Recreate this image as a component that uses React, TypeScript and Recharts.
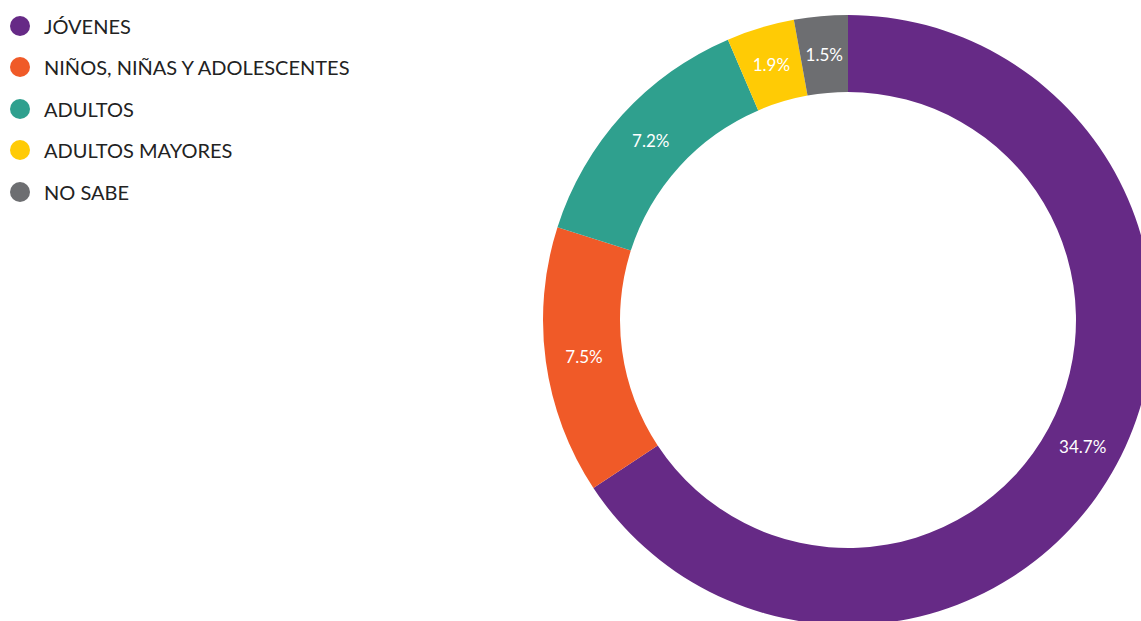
import React from 'react';
import { PieChart, Pie, Cell } from 'recharts';

const categories = ['JÓVENES', 'NIÑOS, NIÑAS Y ADOLESCENTES', 'ADULTOS', 'ADULTOS MAYORES', 'NO SABE'];
const values = [34.7, 7.5, 7.2, 1.9, 1.5];
const colors = ['#662A86', '#F05A28', '#2FA08E', '#FFCB05', '#6D6E71'];

const data = categories.map((name, i) => ({ name, value: values[i] }));

const RADIAN = Math.PI / 180;
const FONT = 'Lato, "Open Sans", sans-serif';

function renderLabel({ cx, cy, midAngle, innerRadius, outerRadius, value }: any) {
  const r = (innerRadius + outerRadius) / 2;
  const x = cx + r * Math.cos(-midAngle * RADIAN);
  const y = cy + r * Math.sin(-midAngle * RADIAN);
  return (
    <text x={x} y={y} fill="#fff" fontSize={17} fontFamily={FONT} textAnchor="middle" dominantBaseline="central">
      {`${value}%`}
    </text>
  );
}

// legend sits in the top-left corner, outside the chart's plot offset
function LegendList() {
  return (
    <div style={{ position: 'absolute', top: 5, left: 0, fontFamily: FONT, zIndex: 1 }}>
      {data.map((d, i) => (
        <div key={d.name} style={{ display: 'flex', alignItems: 'center', height: 41.5 }}>
          <span style={{ width: 20, height: 20, borderRadius: 10, background: colors[i], marginLeft: 10, marginRight: 14 }} />
          <span style={{ fontSize: 20, color: '#222' }}>{d.name}</span>
        </div>
      ))}
    </div>
  );
}

export default function App() {
  return (
    <div style={{ position: 'fixed', top: 0, left: 0, width: 1141, height: 621, overflow: 'hidden', background: '#fff' }}>
      <LegendList />
      <PieChart width={1141} height={621} margin={{ top: 0, right: 0, bottom: 0, left: 0 }}>
        <Pie
          data={data}
          dataKey="value"
          nameKey="name"
          cx={848}
          cy={320}
          innerRadius={228}
          outerRadius={305}
          startAngle={90}
          endAngle={-270}
          stroke="none"
          labelLine={false}
          label={renderLabel}
          isAnimationActive={false}
        >
          {data.map((d, i) => (
            <Cell key={d.name} fill={colors[i]} />
          ))}
        </Pie>
      </PieChart>
    </div>
  );
}
